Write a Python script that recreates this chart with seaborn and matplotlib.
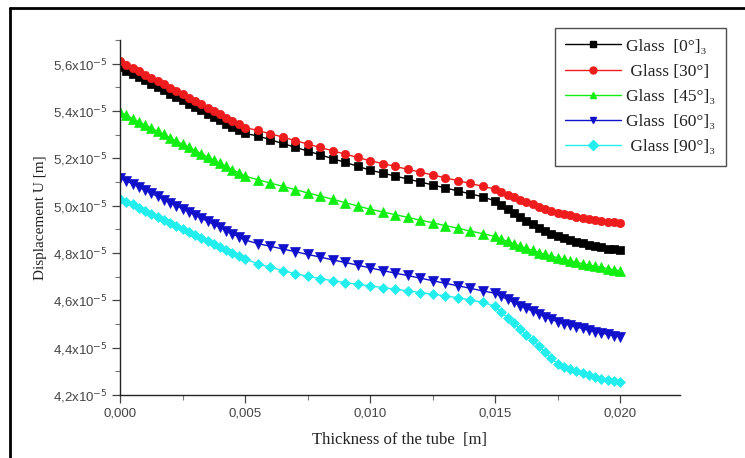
import matplotlib
matplotlib.use("Agg")
import matplotlib.pyplot as plt
import seaborn as sns
import pandas as pd
from matplotlib.ticker import FixedLocator, MultipleLocator, FuncFormatter
from matplotlib.lines import Line2D

# ---- data (displacement in units of 1e-5 m) ----
thickness = [
    0.0, 0.00025, 0.0005, 0.00075, 0.001, 0.00125, 0.0015, 0.00175, 0.002, 0.00225,
    0.0025, 0.00275, 0.003, 0.00325, 0.0035, 0.00375, 0.004, 0.00425, 0.0045, 0.00475, 0.005,
    0.0055, 0.006, 0.0065, 0.007, 0.0075, 0.008, 0.0085, 0.009, 0.0095, 0.010,
    0.0105, 0.011, 0.0115, 0.012, 0.0125, 0.013, 0.0135, 0.014, 0.0145, 0.015,
    0.01525, 0.0155, 0.01575, 0.016, 0.01625, 0.0165, 0.01675, 0.017, 0.01725, 0.0175,
    0.01775, 0.018, 0.01825, 0.0185, 0.01875, 0.019, 0.01925, 0.0195, 0.01975, 0.020,
]

glass_0 = [
    5.585, 5.571, 5.557, 5.543, 5.529, 5.515, 5.501, 5.487, 5.473, 5.459, 5.445, 5.431,
    5.417, 5.403, 5.389, 5.375, 5.361, 5.347, 5.333, 5.319, 5.305,
    5.295, 5.279, 5.263, 5.247, 5.231, 5.215, 5.199, 5.183, 5.167, 5.150,
    5.138, 5.125, 5.113, 5.100, 5.088, 5.075, 5.063, 5.050, 5.038, 5.020,
    5.002, 4.985, 4.968, 4.952, 4.936, 4.921, 4.907, 4.894, 4.882, 4.872,
    4.863, 4.855, 4.848, 4.841, 4.835, 4.829, 4.824, 4.819, 4.815, 4.811,
]
glass_30 = [
    5.610, 5.596, 5.582, 5.568, 5.554, 5.540, 5.526, 5.512, 5.498, 5.484, 5.470, 5.456,
    5.442, 5.428, 5.414, 5.400, 5.386, 5.372, 5.358, 5.344, 5.330,
    5.318, 5.304, 5.290, 5.275, 5.261, 5.246, 5.232, 5.218, 5.204, 5.190,
    5.178, 5.166, 5.154, 5.142, 5.130, 5.118, 5.106, 5.094, 5.082, 5.070,
    5.058, 5.047, 5.036, 5.025, 5.015, 5.005, 4.996, 4.987, 4.979, 4.971,
    4.965, 4.959, 4.954, 4.949, 4.944, 4.940, 4.936, 4.932, 4.929, 4.926,
]
glass_45 = [
    5.395, 5.382, 5.368, 5.355, 5.341, 5.328, 5.314, 5.301, 5.287, 5.274, 5.260, 5.247,
    5.233, 5.220, 5.206, 5.193, 5.179, 5.166, 5.152, 5.139, 5.125,
    5.110, 5.096, 5.082, 5.068, 5.054, 5.041, 5.027, 5.013, 4.999, 4.985,
    4.974, 4.962, 4.951, 4.939, 4.928, 4.916, 4.905, 4.893, 4.882, 4.870,
    4.859, 4.849, 4.839, 4.829, 4.820, 4.811, 4.802, 4.794, 4.787, 4.780,
    4.773, 4.767, 4.761, 4.755, 4.749, 4.744, 4.739, 4.734, 4.729, 4.725,
]
glass_60 = [
    5.118, 5.105, 5.092, 5.079, 5.065, 5.052, 5.039, 5.026, 5.013, 5.000, 4.987, 4.973,
    4.960, 4.947, 4.934, 4.921, 4.908, 4.894, 4.881, 4.868, 4.855,
    4.840, 4.829, 4.817, 4.806, 4.794, 4.783, 4.771, 4.760, 4.749, 4.737,
    4.726, 4.715, 4.705, 4.694, 4.683, 4.672, 4.662, 4.651, 4.640, 4.630,
    4.617, 4.604, 4.591, 4.578, 4.566, 4.554, 4.542, 4.531, 4.520, 4.510,
    4.502, 4.495, 4.488, 4.481, 4.474, 4.468, 4.462, 4.456, 4.451, 4.446,
]
glass_90 = [
    5.030, 5.017, 5.005, 4.992, 4.979, 4.966, 4.954, 4.941, 4.928, 4.915, 4.903, 4.890,
    4.877, 4.864, 4.852, 4.839, 4.826, 4.813, 4.801, 4.788, 4.775,
    4.755, 4.740, 4.726, 4.713, 4.702, 4.692, 4.683, 4.675, 4.668, 4.661,
    4.654, 4.647, 4.640, 4.633, 4.626, 4.619, 4.611, 4.602, 4.592, 4.575,
    4.551, 4.527, 4.503, 4.479, 4.455, 4.431, 4.406, 4.381, 4.356, 4.333,
    4.320, 4.309, 4.300, 4.291, 4.283, 4.276, 4.269, 4.263, 4.258, 4.254,
]

labels = ["Glass  [0°]\u2083", " Glass [30°]", "Glass  [45°]\u2083", "Glass  [60°]\u2083", " Glass [90°]\u2083"]
series = [glass_0, glass_30, glass_45, glass_60, glass_90]
colors = ["#000000", "#ee1c1c", "#11ee11", "#1111cc", "#22eeee"]
markers = ["s", "o", "^", "v", "D"]
msizes = [5.5, 6, 7, 7, 5.5]

y_ticks = [4.2, 4.4, 4.6, 4.8, 5.0, 5.2, 5.4, 5.6]
x_ticks = [0.000, 0.005, 0.010, 0.015, 0.020]

sns.set_theme(style="ticks")
plt.rcParams["font.family"] = ["Liberation Sans", "DejaVu Sans"]

fig = plt.figure(figsize=(7.45, 4.58), dpi=100)
ax = fig.add_axes([120 / 745, 1 - 395 / 458, 560 / 745, 355 / 458])

for vals, lab, col, mk, ms in zip(series, labels, colors, markers, msizes):
    df = pd.DataFrame({"x": thickness, "y": [v * 1e-5 for v in vals]})
    sns.lineplot(data=df, x="x", y="y", ax=ax, color=col, marker=mk, markersize=ms,
                 markeredgecolor=col, markeredgewidth=0.5, linewidth=1.0, label=lab,
                 legend=False)

ax.set_xlim(0, 0.0224)
ax.set_ylim(4.2e-5, 5.7e-5)
ax.xaxis.set_major_locator(FixedLocator(x_ticks))
ax.xaxis.set_minor_locator(MultipleLocator(0.0025))
ax.yaxis.set_major_locator(FixedLocator([v * 1e-5 for v in y_ticks]))
ax.yaxis.set_minor_locator(MultipleLocator(0.1e-5))
ax.xaxis.set_major_formatter(FuncFormatter(lambda v, p: f"{v:.3f}".replace(".", ",")))
ax.yaxis.set_major_formatter(FuncFormatter(lambda v, p: f"{v * 1e5:.1f}".replace(".", ",") + r"x10$^{-5}$"))

for s in ["top", "right"]:
    ax.spines[s].set_visible(False)
for s in ["left", "bottom"]:
    ax.spines[s].set_linewidth(1.0)
    ax.spines[s].set_color("#222222")
ax.tick_params(axis="both", which="major", direction="out", length=6, width=0.9,
               labelsize=9.5, labelcolor="#444444", color="#444444", pad=3)
ax.tick_params(axis="both", which="minor", direction="out", length=3.5, width=0.8, color="#777777")

ax.set_xlabel("Thickness of the tube  [m]", family=["Liberation Serif", "DejaVu Serif"],
              fontsize=12, color="#222222", labelpad=9)
ax.set_ylabel("Displacement U [m]", family=["Liberation Serif", "DejaVu Serif"],
              fontsize=11, color="#222222", labelpad=4)

handles = [Line2D([0], [0], color=c, marker=m, markersize=5, markeredgecolor=c, linewidth=1.0)
           for c, m in zip(colors, markers)]
leg = fig.legend(handles, labels, loc="upper left", bbox_to_anchor=(555 / 745, 1 - 28 / 458),
                 borderaxespad=0.0, frameon=True, fancybox=False, borderpad=0.6,
                 labelspacing=0.52, handlelength=3.2, handletextpad=0.3,
                 prop={"family": ["Liberation Serif", "DejaVu Serif"], "size": 12.5})
leg.get_frame().set_edgecolor("#222222")
leg.get_frame().set_linewidth(1.0)
for t in leg.get_texts():
    t.set_color("#222222")

# outer frame lines (left and top)
fig.add_artist(Line2D([10 / 745, 10 / 745], [0, 1 - 8 / 458], transform=fig.transFigure,
                      color="black", linewidth=2))
fig.add_artist(Line2D([10 / 745, 1], [1 - 8 / 458, 1 - 8 / 458], transform=fig.transFigure,
                      color="black", linewidth=2))

fig.savefig("out.png", dpi=100)
